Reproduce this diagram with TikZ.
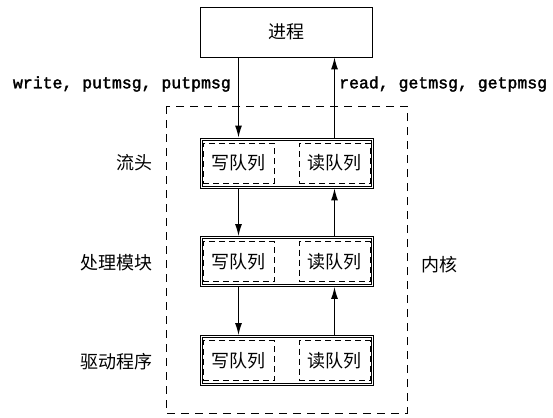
\documentclass[tikz,border=0pt]{standalone}
\usepackage{fontspec}
\newfontfamily\cjk{Noto Sans CJK SC}
\newfontfamily\codefont{Liberation Mono}[FakeBold=2]
\usetikzlibrary{arrows.meta}
\begin{document}
\begin{tikzpicture}[x=1pt,y=-1pt,
  cjktext/.style={font=\cjk\fontsize{18}{20}\selectfont, inner sep=0pt},
  codetext/.style={font=\codefont\fontsize{16.5}{18}\selectfont, inner sep=0pt},
  procbox/.style={draw, line width=0.8pt, minimum width=172pt, minimum height=50pt, inner sep=0pt, cjktext},
  modbox/.style={draw, line width=0.9pt, minimum width=173pt, minimum height=50pt, inner sep=0pt},
  innerframe/.style={draw, line width=0.5pt},
  queuebox/.style={draw, dash pattern=on 6pt off 4pt, line width=0.7pt, minimum width=71pt, minimum height=40pt, inner sep=0pt, cjktext},
  kernelbox/.style={draw, dash pattern=on 8pt off 6pt, line width=0.8pt},
  arr/.style={line width=1.1pt, -{Latex[length=12pt,width=7pt]}}
]
\useasboundingbox (0,0) rectangle (553,417);

% kernel dashed region
\draw[kernelbox] (166,106) rectangle (407,413);

% process box
\node[procbox] (proc) at (286.5,32) {进程};

% module boxes (double frame)
\node[modbox] (m1) at (286.5,163) {};
\node[modbox] (m2) at (286.5,261.5) {};
\node[modbox] (m3) at (286.5,360.5) {};
\foreach \m in {m1,m2,m3}{
  \draw[innerframe] ([shift={(2.3pt,-2.3pt)}]\m.north west) rectangle ([shift={(-2.3pt,2.3pt)}]\m.south east);
}

% queues
\node[queuebox] (w1) at (238.5,163) {写队列};
\node[queuebox] (r1) at (334.5,163) {读队列};
\node[queuebox] (w2) at (238.5,261.5) {写队列};
\node[queuebox] (r2) at (334.5,261.5) {读队列};
\node[queuebox] (w3) at (238.5,360.5) {写队列};
\node[queuebox] (r3) at (334.5,360.5) {读队列};

% arrows
\draw[arr] (proc.south -| w1.center) -- (m1.north -| w1.center);
\draw[arr] (m1.north -| r1.center) -- (proc.south -| r1.center);
\draw[arr] (m1.south -| w1.center) -- (m2.north -| w2.center);
\draw[arr] (m2.north -| r2.center) -- (m1.south -| r1.center);
\draw[arr] (m2.south -| w2.center) -- (m3.north -| w3.center);
\draw[arr] (m3.north -| r3.center) -- (m2.south -| r2.center);

% call labels
\node[codetext, anchor=east] (lw) at (231,84) {write, putmsg, putpmsg};
\node[codetext, anchor=west] (lr) at (339,84) {read, getmsg, getpmsg};

% side labels
\node[cjktext, anchor=east] (s1) at (153,163) {流头};
\node[cjktext, anchor=east] (s2) at (153,263) {处理模块};
\node[cjktext, anchor=east] (s3) at (153,362) {驱动程序};
\node[cjktext, anchor=west] (k) at (421,265) {内核};
\end{tikzpicture}
\end{document}
